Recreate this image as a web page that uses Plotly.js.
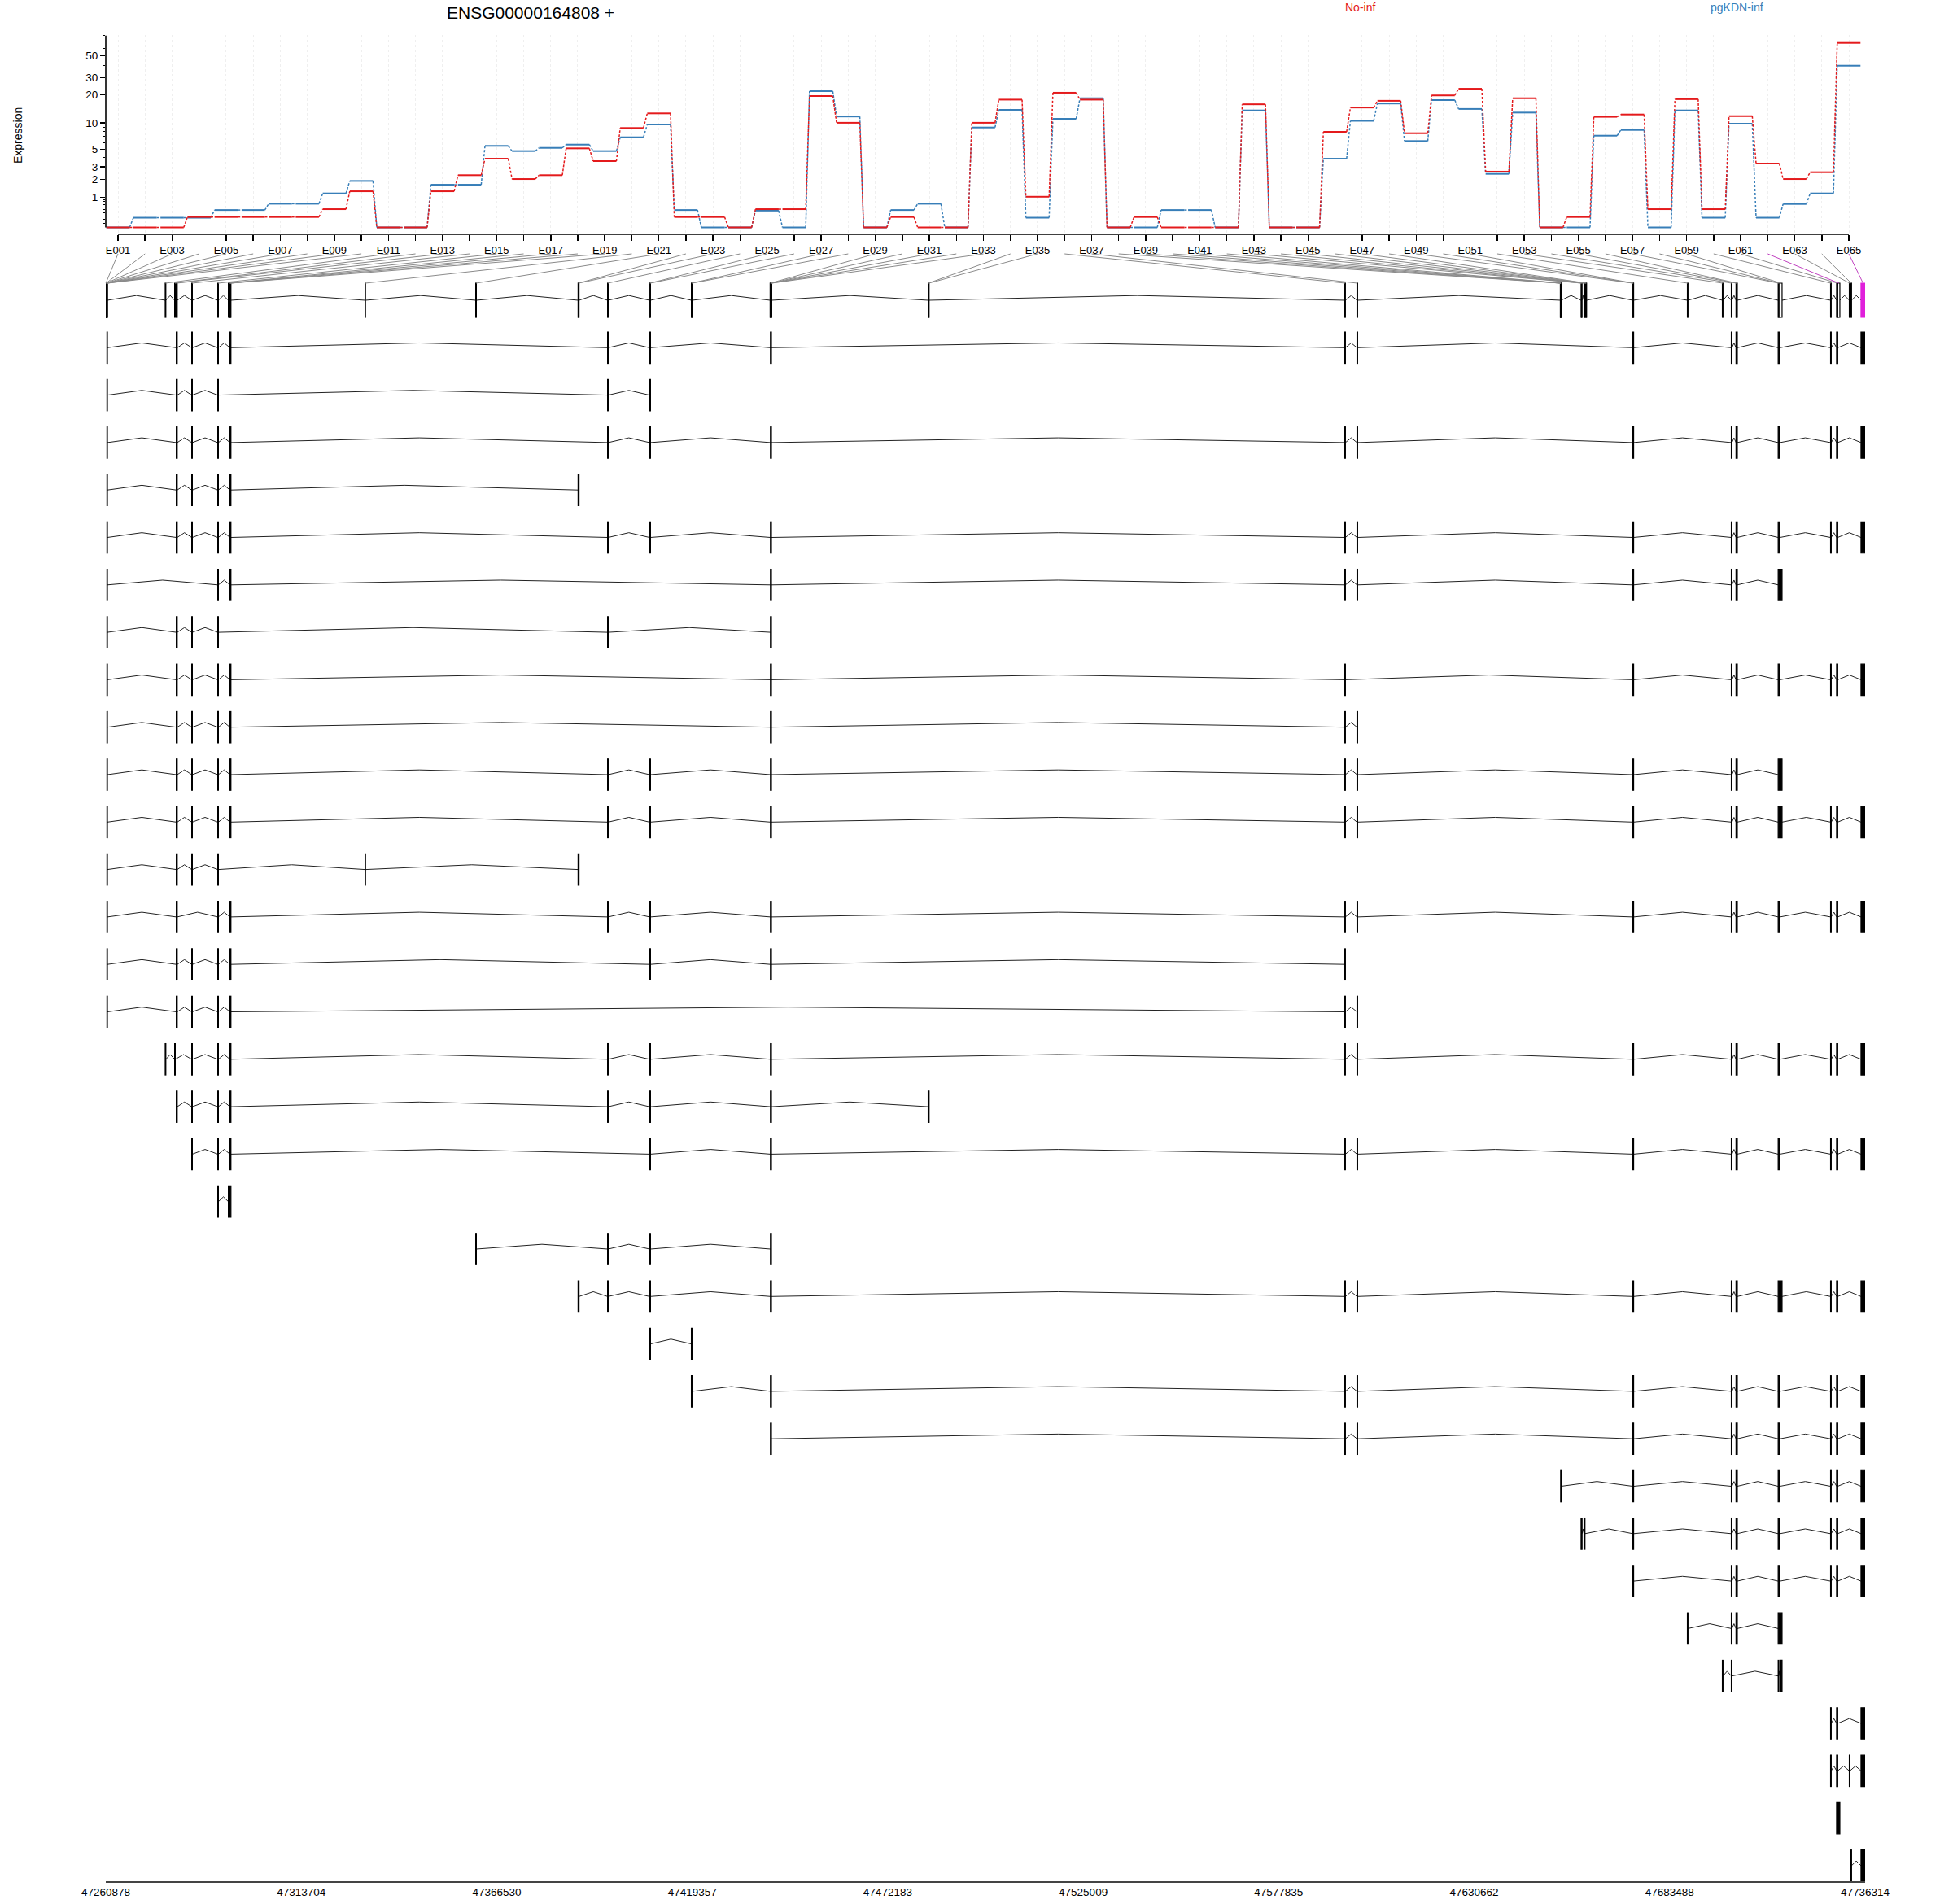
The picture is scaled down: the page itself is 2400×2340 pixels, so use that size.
<!DOCTYPE html>
<html><head><meta charset="utf-8">
<script src="https://cdn.plot.ly/plotly-3.0.1.min.js"></script>
<style>html,body{margin:0;padding:0;background:#fff}</style>
</head><body><div id="chart" style="width:2400px;height:2340px"></div>
<script>
// ---------------- DATA ----------------
const geneTitle = 'ENSG00000164808 +';
const groupNames = ['No-inf', 'pgKDN-inf'];
const exonIds = ['E001','E002','E003','E004','E005','E006','E007','E008','E009','E010',
 'E011','E012','E013','E014','E015','E016','E017','E018','E019','E020',
 'E021','E022','E023','E024','E025','E026','E027','E028','E029','E030',
 'E031','E032','E033','E034','E035','E036','E037','E038','E039','E040',
 'E041','E042','E043','E044','E045','E046','E047','E048','E049','E050',
 'E051','E052','E053','E054','E055','E056','E057','E058','E059','E060',
 'E061','E062','E063','E064','E065'];
const noInf = [0,0,0,0.27,0.27,0.27,0.27,0.27,0.52,1.29,
 0,0,1.29,2.31,3.83,2.03,2.31,5.12,3.57,8.76,
 12.65,0.27,0.27,0,0.52,0.52,19.3,10.0,0,0.27,
 0,0,10.0,17.7,1.02,20.9,17.7,0,0.27,0,
 0,0,15.8,0,0,7.94,14.6,17.2,7.66,19.6,
 23.0,2.59,18.3,0,0.27,11.6,12.3,0.52,17.9,0.52,
 11.8,3.32,2.03,2.54,67.6];
const pgKDNInf = [0,0.25,0.25,0.25,0.49,0.49,0.72,0.72,1.18,1.90,
 0,0,1.66,1.66,5.48,4.75,5.19,5.67,4.75,6.89,
 9.57,0.49,0,0,0.47,0,21.7,11.7,0,0.49,
 0.72,0,8.87,13.8,0.25,11.05,18.3,0,0,0.49,
 0.49,0,13.6,0,0,3.83,10.5,16.1,6.24,17.5,
 14.1,2.41,12.9,0,0,7.19,8.33,0,13.6,0.25,
 9.77,0.25,0.71,1.18,39.7];
const binStart = [47260878,47260922,47260966,47261010,47261054,47261098,47261142,47261186,47261230,47261274,
 47276931,47279482,47279921,47284099,47291136,47293995,47294303,47294435,47294567,47330938,
 47360845,47388508,47388640,47396468,47407815,47407947,47419118,47419250,47440404,47440492,
 47440580,47440668,47440756,47483109,47483241,47595698,47598996,47653949,47653993,47654037,
 47654081,47654125,47659557,47659689,47660348,47660480,47660788,47660920,47673498,47673586,
 47673674,47688276,47697731,47700150,47701426,47701558,47712816,47712992,47713300,47726978,
 47728605,47728913,47732036,47732476,47735202];
const binEnd = [47260922,47260966,47261010,47261054,47261098,47261142,47261186,47261230,47261274,47261318,
 47277107,47279657,47280185,47284275,47291312,47294171,47294435,47294567,47294699,47331070,
 47361020,47388640,47388772,47396644,47407947,47408079,47419250,47419382,47440492,47440580,
 47440668,47440756,47440844,47483241,47483373,47595874,47599172,47653993,47654037,47654081,
 47654125,47654169,47659689,47659821,47660480,47660612,47660920,47661052,47673586,47673674,
 47673762,47688452,47697907,47700326,47701558,47701778,47712992,47713300,47713872,47727154,
 47728913,47729485,47732212,47732651,47736314];
const significantExons = ['E062','E065'];
const transcripts = [
 [8,9,10,13,14,15,18,19,24,25,26,30,31,32,36,37,49,50,51,54,55,56,57,58,60,61,65],
 [8,9,10,13,14,15,24,25,26],
 [8,9,10,13,14,15,18,19,24,25,26,30,31,32,36,37,49,50,51,54,55,56,57,58,60,61,65],
 [8,9,10,13,14,15,18,19,22,23],
 [8,9,10,13,14,15,18,19,24,25,26,30,31,32,36,37,49,50,51,54,55,56,57,58,60,61,65],
 [8,9,10,15,18,19,30,31,32,36,37,49,50,51,54,55,56,57,58,59],
 [8,9,10,13,14,15,24,30,31,32],
 [8,9,10,13,14,15,18,19,30,31,32,36,49,50,51,54,55,56,57,58,60,61,65],
 [8,9,10,13,14,15,18,19,30,31,32,36,37],
 [8,9,10,13,14,15,18,19,24,25,26,30,31,32,36,37,49,50,51,54,55,56,57,58,59],
 [8,9,10,13,14,15,18,19,24,25,26,30,31,32,36,37,49,50,51,54,55,56,57,58,59,60,61,65],
 [8,9,10,13,14,15,20,22,23],
 [8,9,10,13,15,18,19,24,25,26,30,31,32,36,37,49,50,51,54,55,56,57,58,60,61,65],
 [8,9,10,13,14,15,18,19,25,26,30,31,32,36],
 [8,9,10,13,14,15,18,19,36,37],
 [11,12,14,15,18,19,24,25,26,30,31,32,36,37,49,50,51,54,55,56,57,58,60,61,65],
 [13,14,15,18,19,24,25,26,30,31,32,34,35],
 [14,15,18,19,25,26,30,31,32,36,37,49,50,51,54,55,56,57,58,60,61,65],
 [15,16,17,18,19],
 [21,24,25,26,30,31,32],
 [22,23,24,25,26,30,31,32,36,37,49,50,51,54,55,56,57,58,59,60,61,65],
 [25,26,27,28],
 [27,28,30,31,32,36,37,49,50,51,54,55,56,57,58,60,61,65],
 [30,31,32,36,37,49,50,51,54,55,56,57,58,60,61,65],
 [40,41,42,49,50,51,54,55,56,57,58,60,61,65],
 [43,44,45,46,49,50,51,54,55,56,57,58,60,61,65],
 [49,50,51,54,55,56,57,58,60,61,65],
 [52,54,55,56,57,58,59],
 [53,54,57,59],
 [60,61,65],
 [60,61,63,65],
 [61,62],
 [64,65]
];
const genomicTicks = [47260878,47313704,47366530,47419357,47472183,47525009,47577835,47630662,47683488,47736314];
const yTickLabels = [1,2,3,5,10,20,30,50];
const yMinorTicks = [0.1,0.2,0.3,0.4,0.5,0.6,0.7,0.8,0.9,4,6,7,8,9,40,60,70,80];

// ---------------- STYLE / GEOMETRY ----------------
const W = 2400, H = 2340;
const RED = 'rgb(228,26,28)', BLUE = 'rgb(55,126,184)', SIG = '#E020DB', SIGLINE = '#C040C0';
const FONT = 'Liberation Sans, Arial, sans-serif';
const X0 = 130, X1 = 2292;
const xd = [X0 / W, X1 / W];
const E1px = 145, ELpx = 2272;
const unit = (ELpx - E1px) / (exonIds.length - 1);
const xr = [1 - (E1px - X0) / unit, exonIds.length + (X1 - ELpx) / unit];
const tr = v => Math.log10(v + 1);
const yTopPx = 43, yBotPx = 288, zeroPx = 279.5, perUnit = 123.5;
const yr = [-(yBotPx - zeroPx) / perUnit, (zeroPx - yTopPx) / perUnit];
const rowTopPx = 369, rowStep = 58.3, tDomTop = 310, tDomBot = 2312;
const y2r = [(tDomBot - rowTopPx) / rowStep, (tDomTop - rowTopPx) / rowStep];
const g0 = genomicTicks[0], g1 = genomicTicks[genomicTicks.length - 1];
const HW = 0.43;

// ---------------- EXPRESSION TRACES ----------------
function groupTraces(vals, color) {
  const sx = [], sy = [], cx = [], cy = [];
  vals.forEach((v, i) => {
    const x = i + 1, t = tr(v);
    sx.push(x - HW, x + HW, null); sy.push(t, t, null);
    if (i < vals.length - 1) {
      cx.push(x + HW, x + 1 - HW, null); cy.push(t, tr(vals[i + 1]), null);
    }
  });
  return [
    {x: cx, y: cy, mode: 'lines', line: {color: color, width: 1.5, dash: '3px,2px'}, xaxis: 'x', yaxis: 'y', hoverinfo: 'skip'},
    {x: sx, y: sy, mode: 'lines', line: {color: color, width: 2}, xaxis: 'x', yaxis: 'y', hoverinfo: 'skip'}
  ];
}
const traces = [...groupTraces(pgKDNInf, BLUE), ...groupTraces(noInf, RED)];

// ---------------- GENE MODEL & TRANSCRIPTS ----------------
const shapes = [];
function blocksOf(bins) {
  const sorted = bins.slice().sort((a, b) => binStart[a - 1] - binStart[b - 1]);
  const blocks = [];
  sorted.forEach(b => {
    const s = binStart[b - 1], e = binEnd[b - 1];
    const last = blocks[blocks.length - 1];
    if (last && s <= last[1] + 1) last[1] = Math.max(last[1], e);
    else blocks.push([s, e]);
  });
  return blocks;
}
const ix = [], iy = [];
function addIntrons(blocks, row) {
  for (let k = 0; k < blocks.length - 1; k++) {
    const a = blocks[k][1], b = blocks[k + 1][0];
    ix.push(a, (a + b) / 2, b, null);
    iy.push(row, row - 0.1, row, null);
  }
}
const allBins = exonIds.map((_, i) => i + 1);
addIntrons(blocksOf(allBins), 0);
exonIds.forEach((id, i) => {
  const big = significantExons.includes(id) && (binEnd[i] - binStart[i]) > 800;
  shapes.push({type: 'rect', xref: 'x2', yref: 'y2', x0: binStart[i], x1: binEnd[i], y0: -0.36, y1: 0.36,
    line: {color: big ? SIG : 'black', width: 1.2}, fillcolor: big ? SIG : 'white', layer: 'above'});
});
transcripts.forEach((bins, k) => {
  const row = k + 1;
  const bl = blocksOf(bins);
  addIntrons(bl, row);
  bl.forEach(b => shapes.push({type: 'rect', xref: 'x2', yref: 'y2', x0: b[0], x1: b[1], y0: row - 0.33, y1: row + 0.33,
    line: {color: 'black', width: 1.2}, fillcolor: 'black', layer: 'above'}));
});
traces.push({x: ix, y: iy, mode: 'lines', line: {color: '#222', width: 1}, xaxis: 'x2', yaxis: 'y2', hoverinfo: 'skip'});

const labelPaperX = i => xd[0] + (i - xr[0]) / (xr[1] - xr[0]) * (xd[1] - xd[0]);
const genPaperX = g => xd[0] + (g - g0) / (g1 - g0) * (xd[1] - xd[0]);
exonIds.forEach((id, i) => {
  const sig = significantExons.includes(id);
  shapes.push({type: 'line', xref: 'paper', yref: 'paper',
    x0: labelPaperX(i + 1), y0: 1 - 312 / H,
    x1: genPaperX((binStart[i] + binEnd[i]) / 2), y1: 1 - 348 / H,
    line: {color: sig ? SIGLINE : '#8a8a8a', width: 1}});
});
shapes.push({type: 'line', xref: 'x', yref: 'paper', x0: 1, x1: exonIds.length, y0: 1 - yBotPx / H, y1: 1 - yBotPx / H,
  line: {color: 'black', width: 1.6}});
shapes.push({type: 'line', xref: 'paper', yref: 'y', x0: xd[0], x1: xd[0], y0: 0, y1: tr(80),
  line: {color: 'black', width: 1.6}});

// ---------------- LAYOUT ----------------
const layout = {
  width: W, height: H, margin: {l: 0, r: 0, t: 0, b: 0},
  paper_bgcolor: 'white', plot_bgcolor: 'white', showlegend: false,
  font: {family: FONT, color: 'black', size: 13},
  xaxis: {domain: xd, range: xr, anchor: 'y', tickmode: 'array',
    tickvals: exonIds.map((_, i) => i + 1),
    ticktext: exonIds.map((e, i) => i % 2 === 0 ? e : ''),
    ticks: 'outside', ticklen: 7, tickwidth: 1.5, tickcolor: 'black',
    tickfont: {size: 13, family: FONT}, showline: false, zeroline: false,
    showgrid: true, gridcolor: '#efefef', griddash: 'dot', gridwidth: 1},
  yaxis: {domain: [1 - yBotPx / H, 1 - yTopPx / H], range: yr, anchor: 'x',
    tickmode: 'array', tickvals: yTickLabels.map(tr), ticktext: yTickLabels.map(String),
    ticks: 'outside', ticklen: 6, tickwidth: 1.5, tickcolor: 'black',
    tickfont: {size: 13.5, family: FONT}, showline: false, zeroline: false, showgrid: false,
    minor: {tickmode: 'array', tickvals: yMinorTicks.map(tr), ticks: 'outside', ticklen: 3, tickwidth: 1, tickcolor: 'black', showgrid: false}},
  xaxis2: {domain: xd, range: [g0, g1], anchor: 'y2', tickmode: 'array',
    tickvals: genomicTicks, ticktext: genomicTicks.map(String), ticks: '',
    tickfont: {size: 13.5, family: FONT}, showline: true, linecolor: '#444', linewidth: 2.2,
    showgrid: false, zeroline: false},
  yaxis2: {domain: [1 - tDomBot / H, 1 - tDomTop / H], range: y2r, anchor: 'x2', visible: false},
  shapes: shapes,
  annotations: [
    {text: geneTitle, xref: 'paper', yref: 'paper', x: 652 / W, y: 1 - 16 / H, xanchor: 'center', yanchor: 'middle', showarrow: false, font: {size: 21, family: FONT, color: 'black'}},
    {text: groupNames[0], xref: 'paper', yref: 'paper', x: 1671 / W, y: 1 - 9 / H, xanchor: 'center', yanchor: 'middle', showarrow: false, font: {size: 14, family: FONT, color: RED}},
    {text: groupNames[1], xref: 'paper', yref: 'paper', x: 2134 / W, y: 1 - 9 / H, xanchor: 'center', yanchor: 'middle', showarrow: false, font: {size: 14, family: FONT, color: BLUE}},
    {text: 'Expression', xref: 'paper', yref: 'paper', x: 22 / W, y: 1 - 167 / H, xanchor: 'center', yanchor: 'middle', textangle: -90, showarrow: false, font: {size: 14, family: FONT, color: 'black'}}
  ]
};
Plotly.newPlot('chart', traces, layout, {displayModeBar: false, staticPlot: true});
</script></body></html>
